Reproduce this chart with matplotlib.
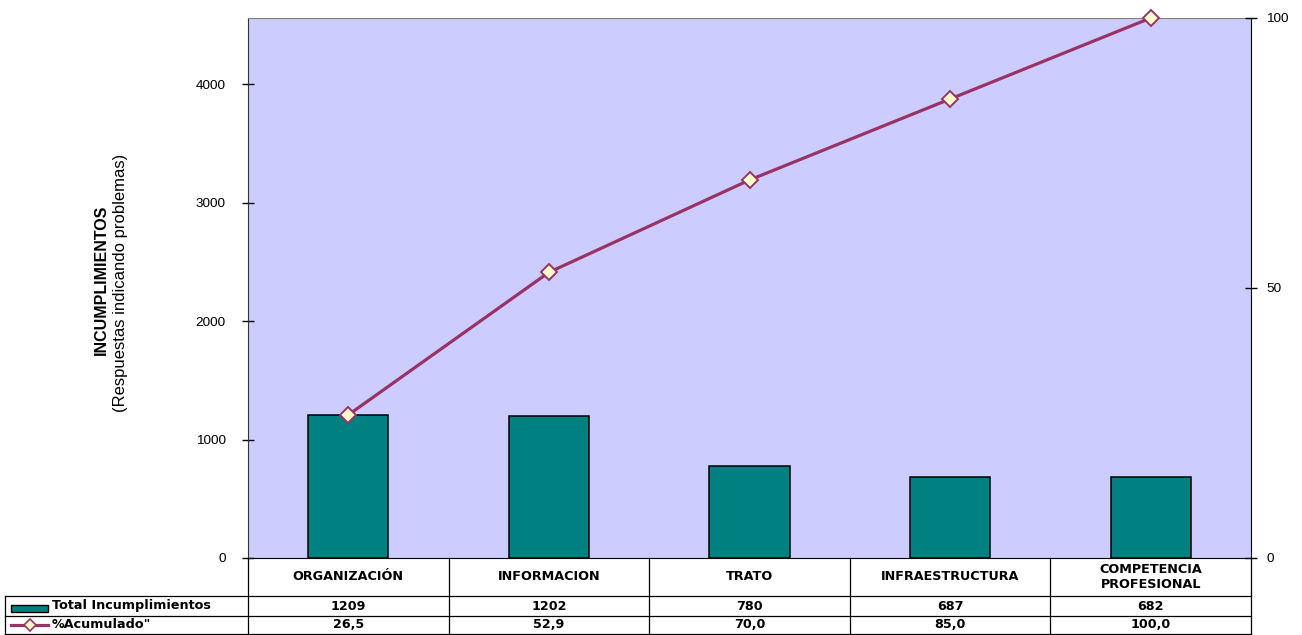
import matplotlib
matplotlib.use("Agg")
import matplotlib.pyplot as plt
from matplotlib.lines import Line2D
from matplotlib.patches import Rectangle
from matplotlib.transforms import blended_transform_factory

# Datos del diagrama de Pareto
categorias = ["ORGANIZACIÓN", "INFORMACION", "TRATO", "INFRAESTRUCTURA",
              "COMPETENCIA\nPROFESIONAL"]
total_incumplimientos = [1209, 1202, 780, 687, 682]
acumulado_pct = [26.5, 52.9, 70.0, 85.0, 100.0]
ticks_izq = [0, 1000, 2000, 3000, 4000]
ticks_der = [0, 50, 100]
serie_barras = "Total Incumplimientos"
serie_linea = '%Acumulado"'

FONDO = "#CCCCFF"
BARRA = "#008080"
LINEA = "#993366"
MARCADOR = "#FFFFCC"

plt.rcParams["font.family"] = ["Liberation Sans", "DejaVu Sans"]

W, H = 1302, 635
fig = plt.figure(figsize=(W / 100, H / 100), dpi=100)
fig.patch.set_facecolor("white")

# área de trazado (en píxeles de la figura)
izq, der, arr, aba = 248, 1251, 18, 558
ax = fig.add_axes([izq / W, 1 - aba / H, (der - izq) / W, (aba - arr) / H])
alto_px = aba - arr
ancho_px = der - izq

n = len(categorias)
x = list(range(n))

ax.set_facecolor(FONDO)
ax.bar(x, total_incumplimientos, width=0.4, color=BARRA,
       edgecolor="black", linewidth=1.1, zorder=2)
ax.set_xlim(-0.5, n - 0.5)
ax.set_ylim(0, sum(total_incumplimientos))
ax.set_yticks(ticks_izq)
ax.set_yticklabels([str(t) for t in ticks_izq])
ax.set_xticks([])
ax.tick_params(axis="y", direction="inout", length=8, width=1,
               labelsize=9.7, pad=12, colors="black")
ax.spines["top"].set_color("#808080")
ax.spines["left"].set_color("#333333")
ax.spines["bottom"].set_color("black")
ax.spines["right"].set_visible(False)

ax2 = ax.twinx()
ax2.set_ylim(0, 100)
ax2.set_yticks(ticks_der)
ax2.set_yticklabels([str(t) for t in ticks_der])
ax2.tick_params(axis="y", direction="inout", length=8, width=1,
                labelsize=9.7, pad=7, colors="black")
for s in ("top", "left", "bottom"):
    ax2.spines[s].set_visible(False)
ax2.spines["right"].set_color("black")
ax2.plot(x, acumulado_pct, color=LINEA, linewidth=2.3, marker="D",
         markersize=8.5, markerfacecolor=MARCADOR, markeredgecolor=LINEA,
         markeredgewidth=1.4, clip_on=False, zorder=3)

# Etiqueta del eje izquierdo
fig.text(101 / W, 1 - 280 / H, "INCUMPLIMIENTOS", rotation=90,
         fontsize=11.5, fontweight="bold", ha="center", va="center")
fig.text(121 / W, 1 - 283 / H, "(Respuestas indicando problemas)",
         rotation=90, fontsize=12, ha="center", va="center")

# Tabla de datos bajo el eje
tr = blended_transform_factory(ax.transData, ax.transAxes)
ta = ax.transAxes
y0 = 0.0
y1 = -38 / alto_px
y2 = -58 / alto_px
y3 = -76 / alto_px
x_ley = (5 - izq) / ancho_px
fuente_tabla = dict(family="DejaVu Sans", fontweight="bold", fontsize=9.2)
kw_linea = dict(color="black", linewidth=0.9, clip_on=False)

for b in [i - 0.5 for i in range(n + 1)]:
    ax.add_line(Line2D([b, b], [y0, y3], transform=tr, **kw_linea))
for yy in (y1, y2, y3):
    ax.add_line(Line2D([x_ley, 1.0], [yy, yy], transform=ta, **kw_linea))
ax.add_line(Line2D([x_ley, x_ley], [y1, y3], transform=ta, **kw_linea))

for i, cat in enumerate(categorias):
    ax.text(i, (y0 + y1) / 2, cat, transform=tr, ha="center", va="center",
            linespacing=1.2, **fuente_tabla)
    ax.text(i, (y1 + y2) / 2, str(total_incumplimientos[i]), transform=tr,
            ha="center", va="center", **fuente_tabla)
    ax.text(i, (y2 + y3) / 2, f"{acumulado_pct[i]:.1f}".replace(".", ","),
            transform=tr, ha="center", va="center", **fuente_tabla)

# leyenda integrada en la tabla
sx0 = (11 - izq) / ancho_px
sx1 = (48 - izq) / ancho_px
ax.add_patch(Rectangle((sx0, -(605 - aba) / alto_px), sx1 - sx0, -7 / alto_px,
                       transform=ta, facecolor=BARRA, edgecolor="black",
                       linewidth=1.0, clip_on=False))
ym = (y2 + y3) / 2
ax.add_line(Line2D([sx0, sx1], [ym, ym], transform=ta, color=LINEA,
                   linewidth=2.3, clip_on=False))
ax.add_line(Line2D([(sx0 + sx1) / 2], [ym], transform=ta, marker="D",
                   markersize=6.5, markerfacecolor=MARCADOR,
                   markeredgecolor=LINEA, markeredgewidth=1.2, clip_on=False))
tx = (52 - izq) / ancho_px
ax.text(tx, (y1 + y2) / 2, serie_barras, transform=ta, ha="left",
        va="center", **fuente_tabla)
ax.text(tx, ym, serie_linea, transform=ta, ha="left", va="center",
        **fuente_tabla)

fig.savefig("out.png", dpi=100)
